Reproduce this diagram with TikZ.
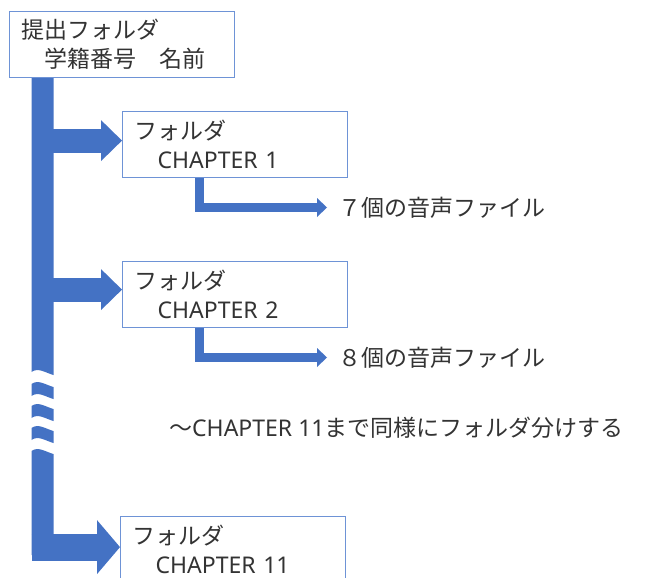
\documentclass[tikz,border=0pt]{standalone}
\usepackage{fontspec}
\setmainfont{Noto Sans CJK JP}
\newfontfamily\latinfont{Noto Sans}
\usetikzlibrary{arrows.meta}
\definecolor{trunkblue}{HTML}{4472C4}
\definecolor{boxblue}{HTML}{6E93D6}
\definecolor{inkgray}{HTML}{333333}
\tikzset{
  folder/.style={draw=boxblue,line width=1.2pt,fill=white,anchor=north west,
    text width=201pt,inner xsep=12pt,inner ysep=0pt,minimum height=66pt,
    align=left,text=inkgray,font=\fontsize{23pt}{29pt}\selectfont},
  note/.style={anchor=west,inner sep=0pt,text=inkgray,font=\fontsize{23pt}{29pt}\selectfont},
  branch/.style={trunkblue,line width=24pt,-{Triangle[length=21pt,width=41pt,line width=0pt]}},
  twig/.style={trunkblue,line width=9pt,-{Triangle[length=10pt,width=19pt,line width=0pt]}}
}
\begin{document}
\begin{tikzpicture}[x=1pt,y=-1pt]
\useasboundingbox (0,0) rectangle (649,578);
\clip (0,0) rectangle (649,578);

% trunk, cut by a wavy break
\coordinate (trunk) at (42.5,78);
\coordinate (trunkleft) at (31.5,78);
\fill[trunkblue] (31.5,78) -- (31.5,372) .. controls (38,367) and (46,373) .. (53.5,375) -- (53.5,78) -- cycle;
\foreach \y in {384,406,428}
  \fill[trunkblue] (31.5,\y) .. controls (38,\y-5) and (46,\y+1) .. (53.5,\y+3)
    -- (53.5,\y+15) .. controls (46,\y+13) and (38,\y+7) .. (31.5,\y+12) -- cycle;
\fill[trunkblue] (31.5,451) .. controls (38,446) and (46,452) .. (53.5,454) -- (53.5,555) -- (31.5,555) -- cycle;

% folders
\node[folder] (root) at (9,11) {提出フォルダ\\　学籍番号　名前};
\node[folder] (ch1) at (122,111) {フォルダ\\　{\latinfont CHAPTER 1}};
\node[folder] (ch2) at (122,261) {フォルダ\\　{\latinfont CHAPTER 2}};
\node[folder] (ch11) at (120,516) {フォルダ\\　{\latinfont CHAPTER 11}};

\node[note,inner xsep=11pt] (files1) at (327,207.5) {７個の音声ファイル};
\node[note,inner xsep=11pt] (files2) at (327,357.5) {８個の音声ファイル};
\node[note] (rest) at (169,428) {～{\latinfont CHAPTER 11}まで同様にフォルダ分けする};

% arrows
\draw[branch] ([yshift=4pt]ch1.west -| trunk) -- ([yshift=4pt]ch1.west);
\draw[branch] ([yshift=5pt]ch2.west -| trunk) -- ([yshift=5pt]ch2.west);
\draw[branch,line width=27pt,-{Triangle[length=23pt,width=54pt,line width=0pt]}]
  ([yshift=2.5pt]ch11.west -| trunkleft) -- ([yshift=2.5pt]ch11.west);
\draw[twig] ([xshift=77.5pt]ch1.south west) |- (files1.west);
\draw[twig] ([xshift=77.5pt]ch2.south west) |- (files2.west);

\end{tikzpicture}
\end{document}
